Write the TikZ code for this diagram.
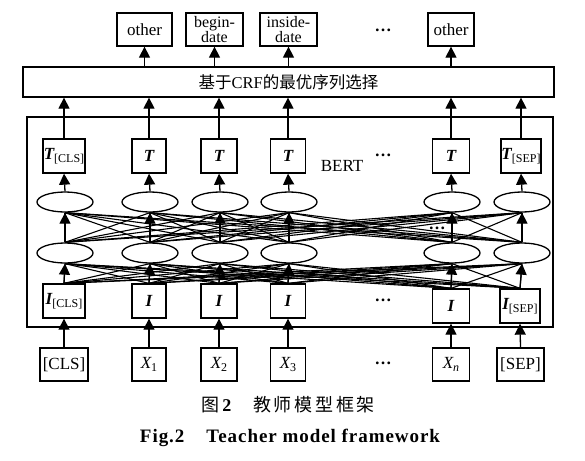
\documentclass[tikz,border=0pt]{standalone}
\usepackage{fontspec}
\setmainfont{Liberation Serif}
\newfontfamily\cjk{Noto Sans CJK SC}
\newfontfamily\cjkcap[LetterSpace=15]{Noto Sans CJK SC}
\newfontfamily\encap[LetterSpace=5]{Liberation Serif}
\usetikzlibrary{arrows.meta,shapes.geometric}
\newcommand{\mysub}[1]{\raisebox{-0.35ex}{\fontsize{12}{12}\selectfont\mdseries\upshape #1}}
\begin{document}
\begin{tikzpicture}[x=1pt,y=-1pt,
  box/.style={draw,line width=1.3pt,inner sep=0pt,minimum height=34pt,font=\fontsize{17}{17}\selectfont},
  ell/.style={draw,ellipse,line width=1.3pt,minimum width=56pt,minimum height=20pt,inner sep=0pt},
  arr/.style={line width=1.3pt,-{Triangle[length=11pt,width=11pt]}},
  mesh/.style={line width=1.1pt},
  dotsn/.style={font=\bfseries\fontsize{17}{17}\selectfont,inner sep=0pt}
]
\useasboundingbox (0,0) rectangle (585,460);
\fill[white] (0,0) rectangle (585,460);

% output boxes
\node[box,minimum width=55pt,minimum height=33pt] (o2) at (144.5,29.5) {other};
\node[box,minimum width=57pt,minimum height=33pt,align=center,font=\fontsize{16}{15}\selectfont] (o3) at (214.5,29.5) {begin-\\date};
\node[box,minimum width=57pt,minimum height=33pt,align=center,font=\fontsize{16}{15}\selectfont] (o4) at (288.5,29.5) {inside-\\date};
\node[box,minimum width=46pt,minimum height=33pt] (o6) at (451,29.5) {other};
\node[dotsn] (dtop) at (383,30) {…};

% CRF box
\node[draw,line width=1.3pt,minimum width=531pt,minimum height=30pt,inner sep=0pt,font=\cjk\fontsize{16.5}{16.5}\selectfont] (crf) at (288.5,82) {基于\rmfamily CRF\cjk 的最优序列选择};

% BERT box
\node[draw,line width=1.3pt,minimum width=526pt,minimum height=210pt,inner sep=0pt] (bert) at (290,222) {};
\node[font=\fontsize{17}{17}\selectfont,inner sep=0pt] (bertl) at (342,166) {BERT};

% T boxes
\node[box,minimum width=42pt] (t1) at (64,156) {\bfseries\itshape T\mysub{[CLS]}};
\node[box,minimum width=34pt] (t2) at (149,156) {\bfseries\itshape T};
\node[box,minimum width=36pt] (t3) at (219,156) {\bfseries\itshape T};
\node[box,minimum width=35pt] (t4) at (288,156) {\bfseries\itshape T};
\node[box,minimum width=37pt] (t6) at (451,156) {\bfseries\itshape T};
\node[box,minimum width=40pt] (t7) at (521,156) {\bfseries\itshape T\mysub{[SEP]}};
\node[dotsn] (dt) at (383,155) {…};

% ellipses
\foreach \n/\x in {1/65,2/150,3/220,4/289,6/452,7/522}{
  \node[ell] (u\n) at (\x,202) {};
  \node[ell] (l\n) at (\x,253) {};
}
\node[dotsn] (dm) at (437,228) {…};

% I boxes
\node[box,minimum width=42pt] (i1) at (64,301) {\bfseries\itshape I\mysub{[CLS]}};
\node[box,minimum width=34pt] (i2) at (149,301) {\bfseries\itshape I};
\node[box,minimum width=36pt] (i3) at (219,301) {\bfseries\itshape I};
\node[box,minimum width=35pt] (i4) at (288,301) {\bfseries\itshape I};
\node[box,minimum width=37pt] (i6) at (451,306) {\bfseries\itshape I};
\node[box,minimum width=40pt] (i7) at (520,306) {\bfseries\itshape I\mysub{[SEP]}};
\node[dotsn] (di) at (383,300) {…};

% inputs
\node[box,minimum width=48pt,minimum height=33pt] (x1) at (64,364.5) {[CLS]};
\node[box,minimum width=34pt,minimum height=33pt] (x2) at (149,364.5) {\itshape X\mysub{1}};
\node[box,minimum width=36pt,minimum height=33pt] (x3) at (219,364.5) {\itshape X\mysub{2}};
\node[box,minimum width=35pt,minimum height=33pt] (x4) at (288,364.5) {\itshape X\mysub{3}};
\node[box,minimum width=37pt,minimum height=33pt] (x6) at (451,364.5) {\itshape X\mysub{\itshape n}};
\node[box,minimum width=47pt,minimum height=33pt] (x7) at (520.5,364.5) {[SEP]};
\node[dotsn] (dx) at (383,363) {…};

% mesh
\foreach \a in {1,2,3,4,6,7}{
  \foreach \b in {1,2,3,4,6,7}{
    \draw[mesh] (i\a.north) -- (l\b.south);
    \draw[mesh] (l\a.north) -- (u\b.south);
  }
}

% vertical arrows
\foreach \n in {1,2,3,4,6,7}{
  \draw[arr] (x\n.north) -- (i\n.south);
  \draw[arr] (i\n.north) -- (l\n.south);
  \draw[arr] (l\n.north) -- (u\n.south);
  \draw[arr] (u\n.north) -- (t\n.south);
  \draw[arr] (t\n.north) -- (t\n.north |- crf.south);
}
\foreach \n in {2,3,4,6}{
  \draw[arr] (o\n.south |- crf.north) -- (o\n.south);
}

% captions
\node[inner sep=0pt,font=\fontsize{18}{18}\selectfont] (cap1) at (288,405) {\cjkcap 图\,{\rmfamily\bfseries 2}\hspace{22pt}教师模型框架};
\node[inner sep=0pt,font=\encap\bfseries\fontsize{19}{19}\selectfont] (cap2) at (290,438) {Fig.2\hspace{22pt}Teacher model framework};
\end{tikzpicture}
\end{document}
